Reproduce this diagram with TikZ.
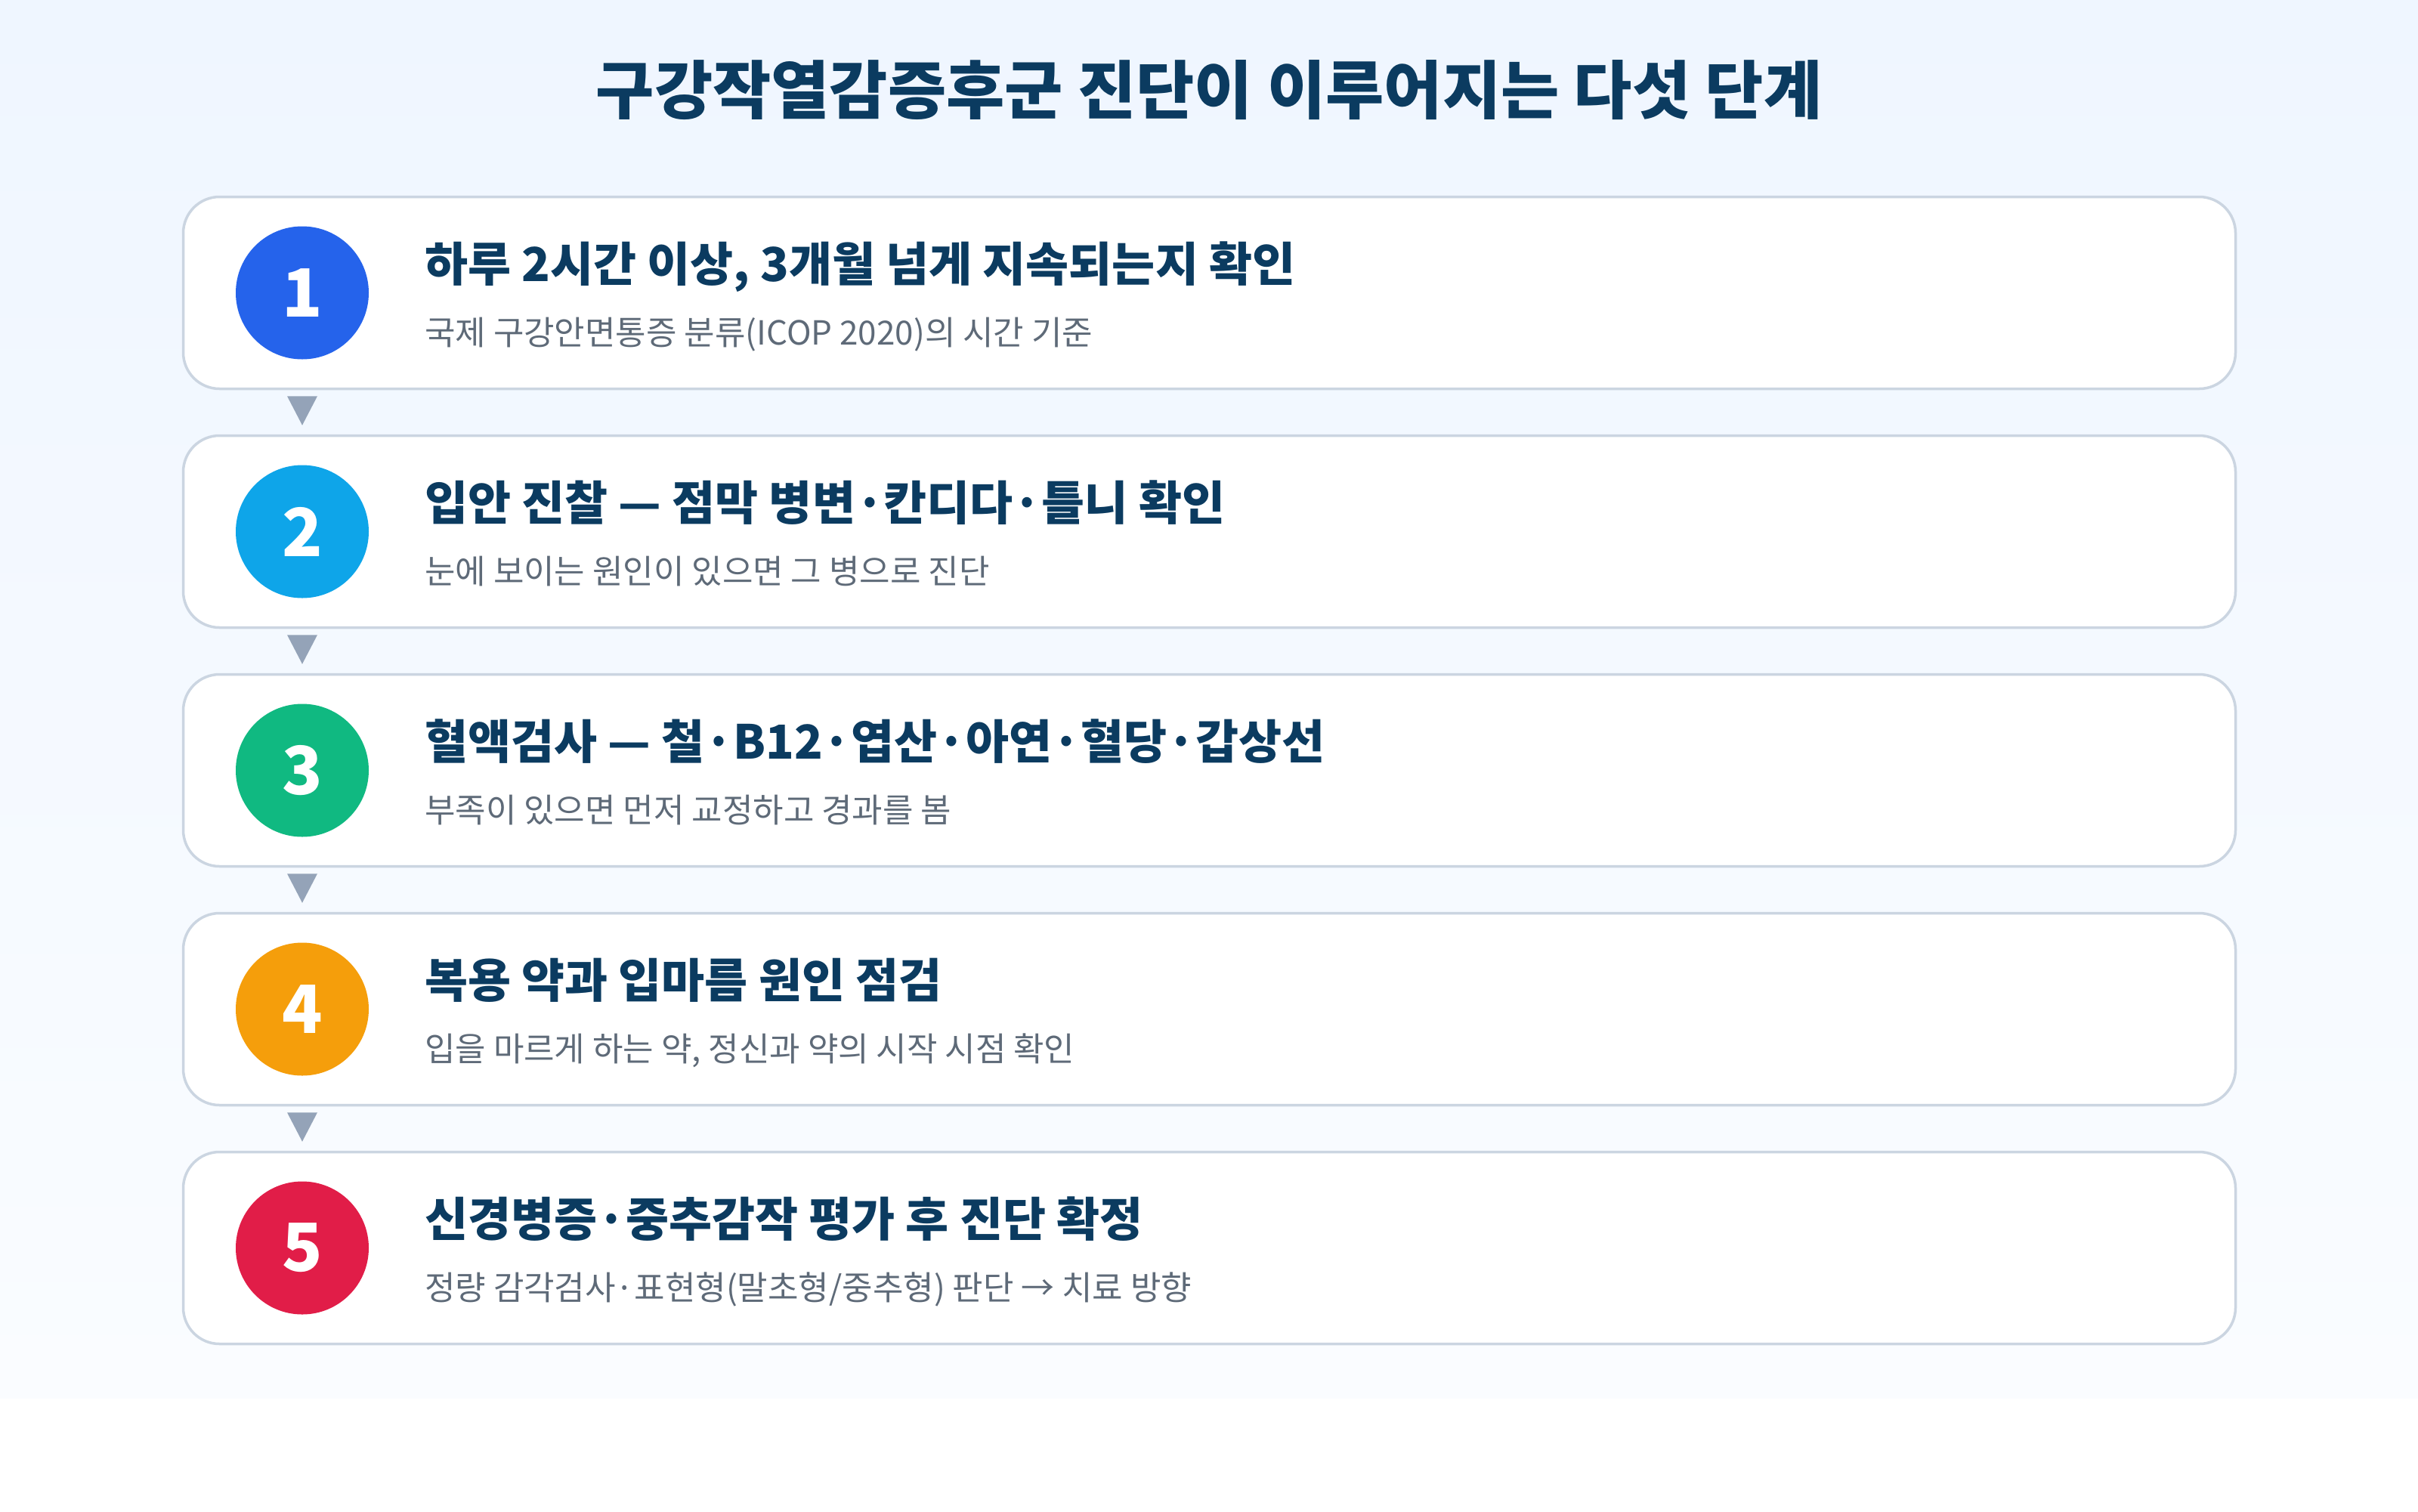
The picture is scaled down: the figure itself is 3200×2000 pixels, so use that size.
\documentclass[tikz,border=0pt]{standalone}
\usepackage{fontspec}
\setmainfont{Noto Sans CJK KR}
\newfontfamily\krfont{Noto Sans CJK KR}
\usetikzlibrary{calc}
\definecolor{navy}{HTML}{0B3B60}
\definecolor{subgray}{HTML}{5E6A78}
\definecolor{boxline}{HTML}{CBD5E1}
\definecolor{tricol}{HTML}{94A3B8}
\definecolor{bgtop}{HTML}{EFF6FF}
\definecolor{bgbot}{HTML}{FAFCFF}
\definecolor{cA}{HTML}{2563EB}
\definecolor{cB}{HTML}{0EA5E9}
\definecolor{cC}{HTML}{10B981}
\definecolor{cD}{HTML}{F59E0B}
\definecolor{cE}{HTML}{E11D48}
\tikzset{
  stepbox/.style={draw=boxline, line width=3.5pt, fill=white, rounded corners=48pt,
    minimum width=2716pt, minimum height=254pt, inner sep=0pt},
  numdot/.style={circle, minimum size=176pt, inner sep=0pt, text=white,
    font=\krfont\bfseries\fontsize{88}{88}\selectfont},
  headtxt/.style={anchor=base west, inner sep=0pt, text=navy,
    font=\krfont\bfseries\fontsize{62}{62}\selectfont},
  subtxt/.style={anchor=base west, inner sep=0pt, text=subgray,
    font=\krfont\fontsize{44}{44}\selectfont},
  titletxt/.style={anchor=base, inner sep=0pt, text=navy,
    font=\krfont\bfseries\fontsize{84}{84}\selectfont},
  tri/.style={fill=tricol}
}
\begin{document}
\begin{tikzpicture}[x=1pt,y=-1pt]
\useasboundingbox (0,0) rectangle (3200,2000);
\fill[white] (0,0) rectangle (3200,2000);
\shade[top color=bgtop, bottom color=bgbot] (0,0) rectangle (3200,1850);
\node[titletxt] (title) at (1600,150) {구강작열감증후군 진단이 이루어지는 다섯 단계};

\foreach \i/\col/\num/\head/\sub in {
  1/cA/1/{하루 2시간 이상, 3개월 넘게 지속되는지 확인}/{국제 구강안면통증 분류(ICOP 2020)의 시간 기준},
  2/cB/2/{입안 진찰 — 점막 병변·칸디다·틀니 확인}/{눈에 보이는 원인이 있으면 그 병으로 진단},
  3/cC/3/{혈액검사 — 철·B12·엽산·아연·혈당·갑상선}/{부족이 있으면 먼저 교정하고 경과를 봄},
  4/cD/4/{복용 약과 입마름 원인 점검}/{입을 마르게 하는 약, 정신과 약의 시작 시점 확인},
  5/cE/5/{신경병증·중추감작 평가 후 진단 확정}/{정량 감각검사·표현형(말초형/중추형) 판단 → 치료 방향}}
{
  \pgfmathsetmacro{\ty}{259+316*(\i-1)}
  \node[stepbox] (b\i) at (1600.5,\ty+128.5) {};
  \node[numdot, fill=\col] (c\i) at (400,\ty+128.5) {\num};
  \node[headtxt] (h\i) at (562,\ty+113) {\head};
  \node[subtxt] (s\i) at (562,\ty+197) {\sub};
}
\foreach \i [evaluate=\i as \j using int(\i+1)] in {1,...,4}{
  \fill[tri] ($(b\i.south -| c\i)+(-20,8)$) -- ($(b\i.south -| c\i)+(20,8)$)
     -- ($(b\j.north -| c\i)+(0,-12)$) -- cycle;
}
\end{tikzpicture}
\end{document}
